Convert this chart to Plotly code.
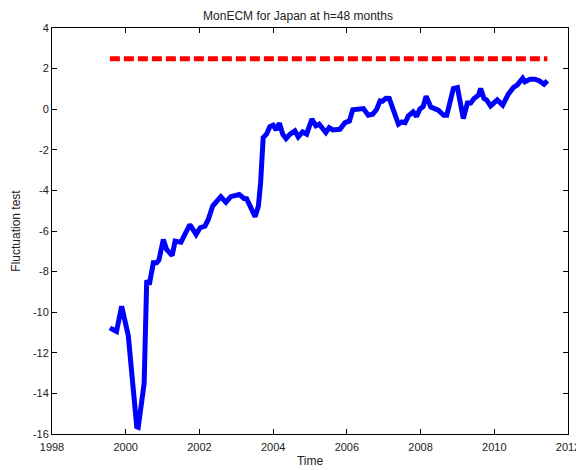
import plotly.graph_objects as go

years = [1999.57, 1999.75, 1999.89, 2000.07, 2000.30, 2000.34, 2000.50, 2000.57, 2000.64, 2000.75,
         2000.84, 2000.90, 2001.02, 2001.11, 2001.26, 2001.34, 2001.50, 2001.65, 2001.74, 2001.91,
         2002.02, 2002.15, 2002.24, 2002.36, 2002.47, 2002.58, 2002.72, 2002.85, 2003.08, 2003.21,
         2003.28, 2003.37, 2003.51, 2003.60, 2003.66, 2003.73, 2003.82, 2003.91, 2004.00, 2004.08,
         2004.17, 2004.26, 2004.35, 2004.46, 2004.59, 2004.68, 2004.80, 2004.91, 2005.05, 2005.16,
         2005.25, 2005.43, 2005.52, 2005.62, 2005.81, 2005.95, 2006.07, 2006.16, 2006.31, 2006.45,
         2006.58, 2006.70, 2006.81, 2006.90, 2006.97, 2007.06, 2007.15, 2007.26, 2007.40, 2007.49,
         2007.58, 2007.67, 2007.80, 2007.89, 2007.98, 2008.07, 2008.15, 2008.28, 2008.48, 2008.63,
         2008.71, 2008.89, 2009.00, 2009.16, 2009.27, 2009.36, 2009.45, 2009.57, 2009.63, 2009.72,
         2009.79, 2009.90, 2010.08, 2010.23, 2010.38, 2010.52, 2010.62, 2010.77, 2010.83, 2010.97,
         2011.10, 2011.22, 2011.35, 2011.44]
fluct = [-10.77, -10.95, -9.71, -11.16, -15.64, -15.67, -13.5, -8.43, -8.64, -7.57,
         -7.57, -7.44, -6.42, -6.91, -7.21, -6.50, -6.55, -6.06, -5.68, -6.17,
         -5.84, -5.76, -5.43, -4.77, -4.49, -4.31, -4.58, -4.31, -4.20, -4.40,
         -4.41, -4.77, -5.30, -4.77, -3.62, -1.40, -1.23, -0.86, -0.79, -1.02,
         -0.69, -1.23, -1.45, -1.23, -1.07, -1.37, -1.12, -1.23, -0.48, -0.82,
         -0.74, -1.15, -0.91, -1.02, -0.99, -0.66, -0.58, -0.03, -0.03, 0.03,
         -0.30, -0.25, 0.0, 0.41, 0.40, 0.54, 0.53, 0.0, -0.74, -0.63,
         -0.66, -0.33, -0.13, -0.36, 0.0, 0.13, 0.64, 0.10, -0.05, -0.30,
         -0.30, 1.02, 1.07, -0.46, 0.30, 0.30, 0.53, 0.69, 1.02, 0.53,
         0.46, 0.16, 0.46, 0.20, 0.74, 1.07, 1.19, 1.52, 1.35, 1.48,
         1.48, 1.40, 1.23, 1.40]
critical_value = 2.49

x_ticks = [1998, 2000, 2002, 2004, 2006, 2008, 2010, 2012]
x_labels = ["1998", "2000", "2002", "2004", "2006", "2008", "2010", "2012"]
y_ticks = [-16, -14, -12, -10, -8, -6, -4, -2, 0, 2, 4]
y_labels = ["-16", "-14", "-12", "-10", "-8", "-6", "-4", "-2", "0", "2", "4"]

fig = go.Figure()
fig.add_trace(go.Scatter(x=years, y=fluct, mode="lines",
                         line=dict(color="#0000ff", width=5), showlegend=False))
fig.add_trace(go.Scatter(x=[years[0], years[-1]], y=[critical_value, critical_value], mode="lines",
                         line=dict(color="#ff0000", width=5, dash="10px,4px"), showlegend=False))

W, H = 576, 462  # page body adds an 8px offset
font = dict(family="Liberation Sans, Arial, sans-serif", size=11, color="#222222")
fig.update_layout(
    width=W, height=H,
    margin=dict(l=44, r=16, t=20, b=36),
    paper_bgcolor="white", plot_bgcolor="white",
    font=font,
    title=dict(text="MonECM for Japan at h=48 months", x=290 / W, xanchor="center",
               y=1 - 7.5 / H, yanchor="middle", font=dict(size=12, family=font["family"], color="#222222")),
    xaxis=dict(range=[1998, 2012], tickvals=x_ticks, ticktext=x_labels, ticks="inside", ticklen=5,
               tickcolor="black", showline=True, linecolor="black", linewidth=1, mirror="ticks",
               showgrid=False, zeroline=False, automargin=False, ticklabelstandoff=3,
               title=dict(text="Time", standoff=4, font=dict(size=12))),
    yaxis=dict(range=[-16, 4], tickvals=y_ticks, ticktext=y_labels, ticks="inside", ticklen=5,
               tickcolor="black", showline=True, linecolor="black", linewidth=1, mirror="ticks",
               showgrid=False, zeroline=False, automargin=False,
               title=dict(text="Fluctuation test", standoff=9, font=dict(size=12))),
)
fig.write_html("out.html")
